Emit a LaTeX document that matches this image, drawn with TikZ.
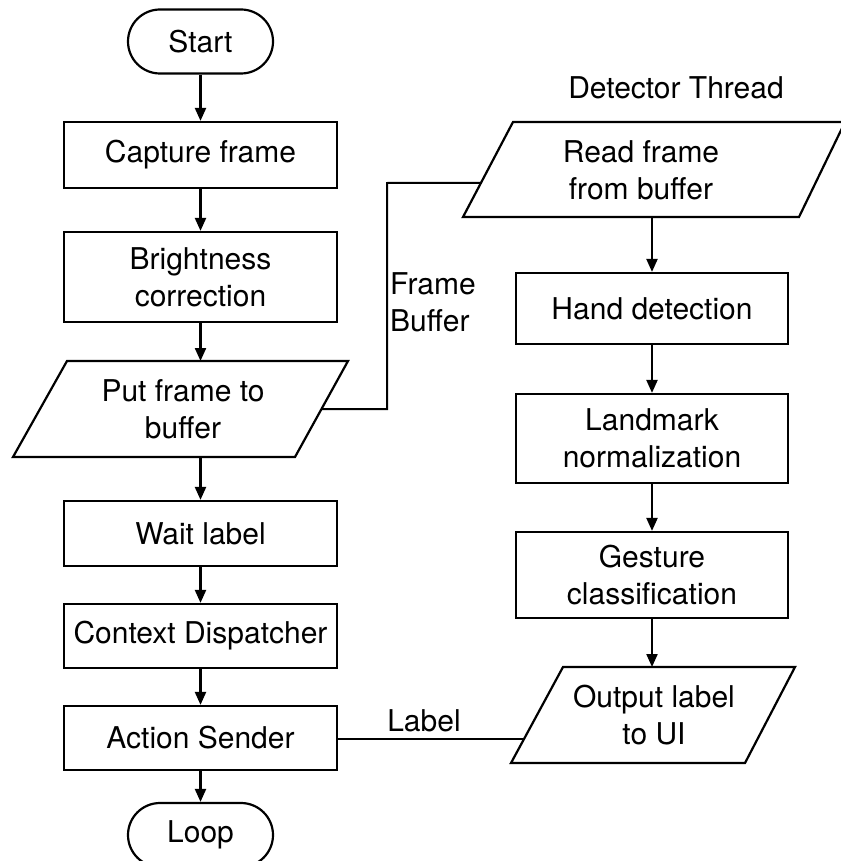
\documentclass[tikz,border=0pt]{standalone}
\usepackage{fontspec}
\setmainfont{TeX Gyre Heros}
\usetikzlibrary{arrows.meta,calc}
\begin{document}
\begin{tikzpicture}[x=1pt,y=-1pt,
  every node/.style={font=\fontsize{30}{37}\selectfont, align=center, inner sep=0pt},
  procbox/.style={draw, line width=2.2pt, rectangle, minimum width=273pt},
  termbox/.style={draw, line width=2.2pt, rounded corners=32pt, minimum width=145pt, minimum height=64pt},
  flow/.style={line width=2.2pt, -{Triangle[length=13pt,width=11pt]}},
  link/.style={line width=2pt},
  iobox/.style={line width=2.2pt, line join=miter}]
\useasboundingbox (0,0) rectangle (840,861);
\fill[white] (0,0) rectangle (840,861);

% left column
\node[termbox] (start) at (200.5,41.5) {Start};
\node[procbox, minimum height=66pt] (cf) at (200.5,155) {Capture frame};
\node[procbox, minimum height=90pt] (bc) at (200.5,277) {Brightness\\correction};
\node (pf) at (183,409) {Put frame to\\buffer};
\node[procbox, minimum height=65pt] (wl) at (200.5,533.5) {Wait label};
\node[procbox, minimum height=64pt] (cd) at (200.5,636) {Context Dispatcher};
\node[procbox, minimum height=64pt] (as) at (200.5,738) {Action Sender};
\node[termbox] (loop) at (200.5,835) {Loop};

% right column
\node (title) at (676,88) {Detector Thread};
\node (rf) at (641,170) {Read frame\\from buffer};
\node[procbox, minimum width=272pt, minimum height=71pt] (hd) at (652,308.5) {Hand detection};
\node[procbox, minimum width=272pt, minimum height=89pt] (lm) at (652,438.5) {Landmark\\normalization};
\node[procbox, minimum width=272pt, minimum height=86pt] (gc) at (652,575) {Gesture\\classification};
\node (ol) at (654,715) {Output label\\to UI};

% edge labels
\node[anchor=west, align=left] (fbtxt) at (390,302) {Frame\\Buffer};
\node (labtxt) at (424,721) {Label};

% parallelogram corners
\coordinate (pf-tl) at ($(pf)+(-116,-48)$);
\coordinate (pf-tr) at ($(pf)+(165,-48)$);
\coordinate (pf-br) at ($(pf)+(112,48)$);
\coordinate (pf-bl) at ($(pf)+(-170,48)$);
\coordinate (rf-tl) at ($(rf)+(-128,-48)$);
\coordinate (rf-tr) at ($(rf)+(204,-48)$);
\coordinate (rf-br) at ($(rf)+(158,47)$);
\coordinate (rf-bl) at ($(rf)+(-178,47)$);
\coordinate (ol-tl) at ($(ol)+(-91,-48)$);
\coordinate (ol-tr) at ($(ol)+(141,-48)$);
\coordinate (ol-br) at ($(ol)+(91,48)$);
\coordinate (ol-bl) at ($(ol)+(-143,48)$);
\draw[iobox] (pf-tl) -- (pf-tr) -- (pf-br) -- (pf-bl) -- cycle;
\draw[iobox] (rf-tl) -- (rf-tr) -- (rf-br) -- (rf-bl) -- cycle;
\draw[iobox] (ol-tl) -- (ol-tr) -- (ol-br) -- (ol-bl) -- cycle;

% connector ends
\coordinate (pfout) at ($(pf-tr)!0.5!(pf-br)$);
\coordinate (fbk) at (387,183);
\coordinate (rfin) at ($(rf-tl)!0.642!(rf-bl)$);
\coordinate (olin) at ($(ol-tl)!0.75!(ol-bl)$);

% flows
\draw[flow] (start) -- (cf);
\draw[flow] (cf) -- (bc);
\draw[flow] (bc.south) -- (bc.south |- pf-tl);
\draw[flow] (bc.south |- pf-bl) -- (wl.north);
\draw[flow] (wl) -- (cd);
\draw[flow] (cd) -- (as);
\draw[flow] (as) -- (loop);
\draw[flow] (hd.north |- rf-bl) -- (hd.north);
\draw[flow] (hd) -- (lm);
\draw[flow] (lm) -- (gc);
\draw[flow] (gc.south) -- (gc.south |- ol-tl);

% links
\draw[link] (pfout) -| (fbk) -- (rfin);
\draw[link] (as.east |- olin) -- (olin);
\end{tikzpicture}
\end{document}
